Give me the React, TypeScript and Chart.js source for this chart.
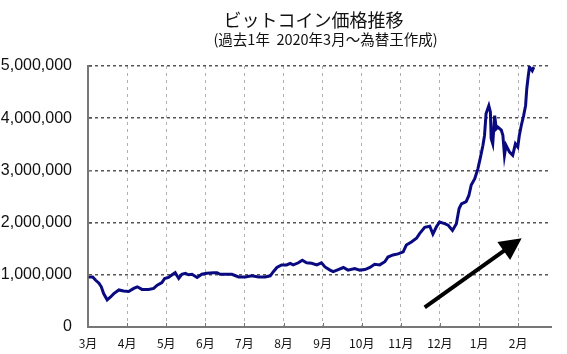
import React, { useEffect, useRef } from "react";
import { Chart, registerables } from "chart.js";

Chart.register(...registerables);

const titleText = "ビットコイン価格推移";
const subtitleText = "(過去1年  2020年3月～為替王作成)";
const monthLabels = ["3月", "4月", "5月", "6月", "7月", "8月", "9月", "10月", "11月", "12月", "1月", "2月"];
const yTicks = [0, 1000000, 2000000, 3000000, 4000000, 5000000];

// time in months since 2020-03-01
const monthsElapsed = [
  0.02, 0.12, 0.19, 0.28, 0.34, 0.40, 0.49, 0.57, 0.66, 0.79, 0.91, 1.04, 1.17, 1.26, 1.38, 1.55, 1.68, 1.77, 1.89, 1.96,
  2.06, 2.15, 2.23, 2.32, 2.40, 2.49, 2.57, 2.66, 2.79, 2.91, 3.04, 3.21, 3.30, 3.38, 3.51, 3.68, 3.85, 4.02, 4.19, 4.36,
  4.53, 4.66, 4.74, 4.83, 4.95, 5.08, 5.17, 5.25, 5.38, 5.48, 5.59, 5.72, 5.85, 5.97, 6.06, 6.19, 6.27, 6.40, 6.53, 6.65,
  6.82, 6.95, 7.08, 7.21, 7.33, 7.46, 7.59, 7.67, 7.80, 7.93, 8.06, 8.14, 8.27, 8.40, 8.48, 8.61, 8.74, 8.82, 8.91, 8.99,
  9.12, 9.21, 9.32, 9.42, 9.49, 9.55, 9.67, 9.74, 9.80, 9.89, 9.97, 10.03, 10.10, 10.14, 10.18, 10.25, 10.29, 10.31, 10.35, 10.40,
  10.44, 10.48, 10.57, 10.61, 10.65, 10.69, 10.78, 10.86, 10.93, 10.99, 11.03, 11.08, 11.14, 11.19, 11.22, 11.26, 11.29, 11.36, 11.40,
];

// price in JPY
const prices = [
  960000, 960000, 900000, 840000, 770000, 640000, 520000, 570000, 640000, 710000, 690000, 680000, 740000, 770000, 720000, 720000, 740000, 800000, 850000, 930000,
  950000, 1000000, 1040000, 930000, 1010000, 1030000, 1000000, 1010000, 950000, 1010000, 1030000, 1040000, 1040000, 1010000, 1010000, 1010000, 960000, 960000, 980000, 960000,
  960000, 980000, 1060000, 1140000, 1190000, 1190000, 1220000, 1190000, 1230000, 1280000, 1230000, 1220000, 1190000, 1230000, 1150000, 1090000, 1060000, 1100000, 1140000, 1090000,
  1120000, 1090000, 1100000, 1140000, 1200000, 1190000, 1250000, 1340000, 1380000, 1400000, 1440000, 1570000, 1630000, 1700000, 1790000, 1910000, 1930000, 1780000, 1920000, 2010000,
  1980000, 1950000, 1850000, 1980000, 2270000, 2360000, 2400000, 2520000, 2720000, 2840000, 3030000, 3230000, 3480000, 3670000, 4090000, 4240000, 4120000, 3610000, 3510000, 4050000,
  3800000, 3830000, 3770000, 3670000, 3290000, 3480000, 3350000, 3290000, 3510000, 3450000, 3670000, 3860000, 4050000, 4240000, 4560000, 4820000, 4980000, 4910000, 4980000,
];

// trend arrow annotation (months, JPY)
const arrowStart = { x: 8.61, y: 377000 };
const arrowEnd = { x: 11.09, y: 1700000 };

const X_MAX = 11.84;

const overlayPlugin = {
  id: "overlay",
  afterDatasetsDraw(chart: any) {
    const { ctx, chartArea, scales } = chart;
    const xs = scales.x;
    const ys = scales.y;
    // inner tick marks
    ctx.save();
    ctx.strokeStyle = "#777";
    ctx.lineWidth = 1;
    for (let i = 1; i < monthLabels.length; i++) {
      const px = Math.round(xs.getPixelForValue(i)) + 0.5;
      ctx.beginPath();
      ctx.moveTo(px, chartArea.bottom);
      ctx.lineTo(px, chartArea.bottom - 4);
      ctx.stroke();
    }
    for (const v of yTicks) {
      if (v === 0) continue;
      const py = Math.round(ys.getPixelForValue(v)) + 0.5;
      ctx.beginPath();
      ctx.moveTo(chartArea.left, py);
      ctx.lineTo(chartArea.left + 4, py);
      ctx.stroke();
    }
    ctx.restore();
    // arrow
    const x1 = xs.getPixelForValue(arrowStart.x);
    const y1 = ys.getPixelForValue(arrowStart.y);
    const x2 = xs.getPixelForValue(arrowEnd.x);
    const y2 = ys.getPixelForValue(arrowEnd.y);
    const ang = Math.atan2(y2 - y1, x2 - x1);
    const headLen = 22;
    const headW = 11;
    ctx.save();
    ctx.strokeStyle = "#000";
    ctx.fillStyle = "#000";
    ctx.lineWidth = 4;
    ctx.beginPath();
    ctx.moveTo(x1, y1);
    ctx.lineTo(x2 - Math.cos(ang) * headLen * 0.8, y2 - Math.sin(ang) * headLen * 0.8);
    ctx.stroke();
    ctx.beginPath();
    ctx.moveTo(x2, y2);
    const bx = x2 - Math.cos(ang) * headLen;
    const by = y2 - Math.sin(ang) * headLen;
    ctx.lineTo(bx + Math.sin(ang) * headW, by - Math.cos(ang) * headW);
    ctx.lineTo(bx - Math.sin(ang) * headW, by + Math.cos(ang) * headW);
    ctx.closePath();
    ctx.fill();
    ctx.restore();
  },
  afterDraw(chart: any) {
    const { ctx, chartArea } = chart;
    const cx = (chartArea.left + chartArea.right) / 2;
    ctx.save();
    ctx.fillStyle = "#111";
    ctx.textAlign = "center";
    ctx.textBaseline = "middle";
    ctx.font = '18px "Noto Sans CJK JP", sans-serif';
    ctx.fillText(titleText, cx - 6, 20);
    ctx.font = '14.5px "Noto Sans CJK JP", sans-serif';
    ctx.fillText(subtitleText, cx + 6, 39);
    ctx.restore();
  },
};

export default function App() {
  const canvasRef = useRef<HTMLCanvasElement | null>(null);

  useEffect(() => {
    if (!canvasRef.current) return;
    const data = monthsElapsed.map((m, i) => ({ x: m, y: prices[i] }));
    const chart = new Chart(canvasRef.current, {
      type: "line",
      data: {
        datasets: [
          {
            data,
            borderColor: "#0a0a80",
            borderWidth: 3,
            pointRadius: 0,
            tension: 0,
            fill: false,
          },
        ],
      },
      options: {
        animation: false,
        responsive: false,
        maintainAspectRatio: false,
        layout: { padding: { top: 66, right: 16, left: 0, bottom: 0 } },
        plugins: {
          legend: { display: false },
          tooltip: { enabled: false },
          title: { display: false },
        },
        scales: {
          x: {
            type: "linear",
            min: 0,
            max: X_MAX,
            afterFit(scale: any) {
              scale.height = 27;
            },
            ticks: {
              stepSize: 1,
              includeBounds: false,
              autoSkip: false,
              maxRotation: 0,
              padding: 9,
              color: "#111",
              font: { size: 12, family: '"Noto Sans CJK JP", sans-serif' },
              callback: (v: any) => {
                const n = Number(v);
                return Number.isInteger(n) && n >= 0 && n < monthLabels.length ? monthLabels[n] : "";
              },
            },
            grid: {
              color: "#b0b0b0",
              lineWidth: 1,
              drawTicks: false,
            },
            border: { display: true, color: "#777", width: 2, dash: [3, 4] },
          },
          y: {
            type: "linear",
            min: 0,
            max: 5000000,
            afterFit(scale: any) {
              scale.width = 88;
            },
            afterBuildTicks(scale: any) {
              scale.ticks = yTicks.map((v) => ({ value: v }));
            },
            ticks: {
              padding: 16,
              color: "#111",
              font: { size: 16, family: '"Liberation Sans", Arial, sans-serif' },
              callback: (v: any) => Number(v).toLocaleString("en-US"),
            },
            grid: {
              color: "#555",
              lineWidth: 1.5,
              drawTicks: false,
            },
            border: { display: true, color: "#777", width: 2, dash: [3, 3] },
          },
        },
      } as any,
      plugins: [overlayPlugin],
    });
    return () => chart.destroy();
  }, []);

  return (
    <div style={{ position: "fixed", left: 0, top: 0, width: 567, height: 354, background: "#fff" }}>
      <canvas ref={canvasRef} width={567} height={354} style={{ display: "block" }} />
    </div>
  );
}
